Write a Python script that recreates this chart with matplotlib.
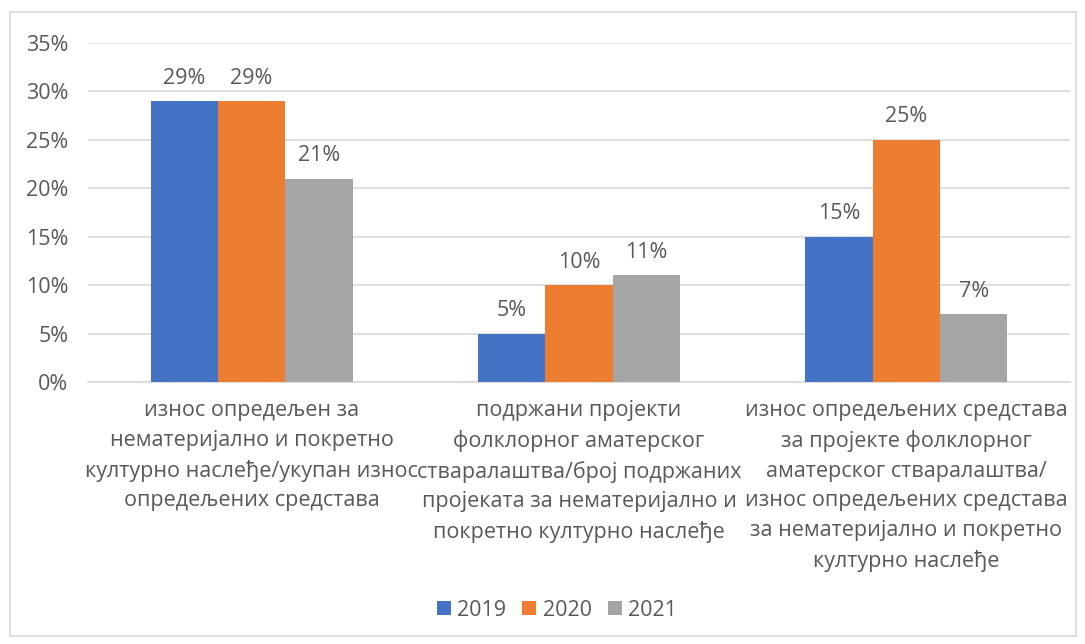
import matplotlib
matplotlib.use("Agg")
import matplotlib.pyplot as plt
from matplotlib.patches import Rectangle
import numpy as np

plt.rcParams['font.family'] = ['Open Sans', 'DejaVu Sans']

categories = [
    "износ опредељен за\nнематеријално и покретно\nкултурно наслеђе/укупан износ\nопредељених средстава",
    "подржани пројекти\nфолклорног аматерског\nстваралаштва/број подржаних\nпројеката за нематеријално и\nпокретно културно наслеђе",
    "износ опредељених средстава\nза пројекте фолклорног\nаматерског стваралаштва/\nизнос опредељених средстава\nза нематеријално и покретно\nкултурно наслеђе",
]
series_names = ["2019", "2020", "2021"]
values_2019 = [29, 5, 15]
values_2020 = [29, 10, 25]
values_2021 = [21, 11, 7]
colors = ["#4472C4", "#ED7D31", "#A5A5A5"]
yticks = [0, 5, 10, 15, 20, 25, 30, 35]

text_color = "#595959"
fs = 15.5
fig = plt.figure(figsize=(10.85, 6.44), dpi=100)
fig.patches.append(Rectangle((10/1085, 1-636/644), 1066/1085, 624/644,
                             transform=fig.transFigure, fill=False,
                             edgecolor="#D9D9D9", linewidth=1.2))
ax = fig.add_axes([88/1085, 1-382/644, 982/1085, 339/644])

x = np.arange(len(categories))
w = 0.206
all_vals = [values_2019, values_2020, values_2021]
for i, (vals, name, c) in enumerate(zip(all_vals, series_names, colors)):
    bars = ax.bar(x + (i-1)*w, vals, w, color=c, label=name, zorder=3)
    for b, v in zip(bars, vals):
        ax.annotate(f"{v}%", (b.get_x()+b.get_width()/2, v), xytext=(0, 9),
                    textcoords="offset points", ha="center", va="bottom",
                    fontsize=fs, color=text_color)

ax.set_xlim(-0.5, len(categories)-0.5)
ax.set_ylim(0, 35)
ax.set_yticks(yticks)
ax.set_yticklabels([f"{t}%" for t in yticks], fontsize=fs, color=text_color)
ax.set_xticks(x)
ax.set_xticklabels(categories, fontsize=fs, color=text_color, linespacing=1.53, va="top")
ax.tick_params(axis='both', length=0)
ax.tick_params(axis='y', pad=14)
ax.tick_params(axis='x', pad=13)
ax.grid(axis='y', color="#D9D9D9", linewidth=1.2, zorder=0)
for s in ["top", "right", "left"]:
    ax.spines[s].set_visible(False)
ax.spines["bottom"].set_color("#D9D9D9")
ax.spines["bottom"].set_linewidth(1.2)

leg = fig.legend(loc="center", bbox_to_anchor=(557/1085, 1-610/644), ncol=3,
                 frameon=False, fontsize=fs, handlelength=0.65, handleheight=0.65,
                 handletextpad=0.3, columnspacing=0.75)
for t in leg.get_texts():
    t.set_color(text_color)

fig.savefig("out.png", dpi=100)
